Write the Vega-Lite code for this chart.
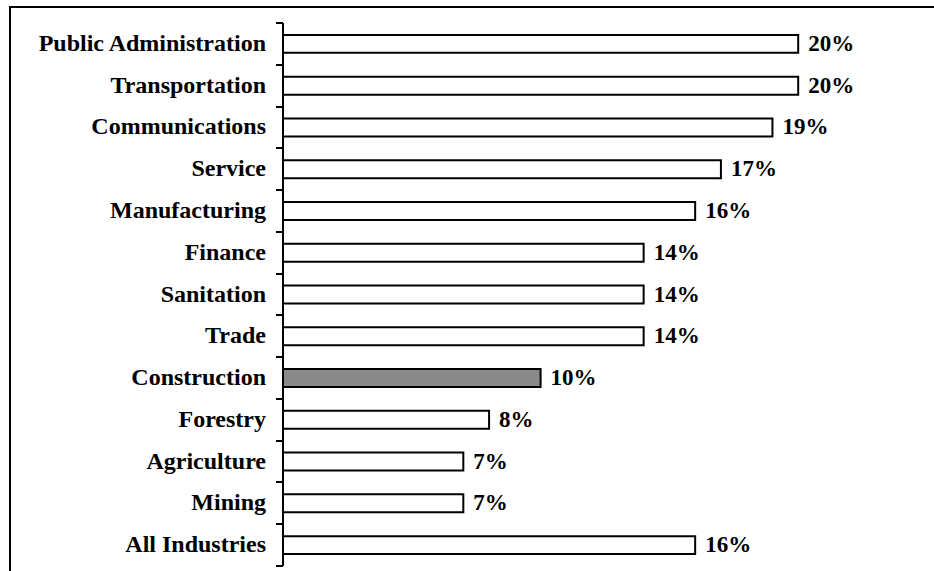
{
  "$schema": "https://vega.github.io/schema/vega-lite/v6.json",
  "autosize": "none",
  "width": 924,
  "height": 564,
  "padding": {"left": 10, "top": 7, "right": 0, "bottom": 0},
  "background": "white",
  "config": {
    "view": {
      "stroke": "black",
      "strokeWidth": 2,
      "strokeCap": "square",
      "strokeDash": [924, 1488, 564, 0]
    },
    "font": "Liberation Serif"
  },
  "data": {
    "values": [
      {"industry": "Public Administration", "share": 0.20},
      {"industry": "Transportation", "share": 0.20},
      {"industry": "Communications", "share": 0.19},
      {"industry": "Service", "share": 0.17},
      {"industry": "Manufacturing", "share": 0.16},
      {"industry": "Finance", "share": 0.14},
      {"industry": "Sanitation", "share": 0.14},
      {"industry": "Trade", "share": 0.14},
      {"industry": "Construction", "share": 0.10},
      {"industry": "Forestry", "share": 0.08},
      {"industry": "Agriculture", "share": 0.07},
      {"industry": "Mining", "share": 0.07},
      {"industry": "All Industries", "share": 0.16}
    ]
  },
  "encoding": {
    "y": {
      "field": "industry",
      "type": "nominal",
      "sort": null,
      "scale": {"range": [16, 559], "paddingInner": 0, "paddingOuter": 0},
      "axis": {
        "title": null,
        "orient": "left",
        "offset": -273,
        "translate": 0,
        "tickBand": "extent",
        "grid": false,
        "domainColor": "black",
        "domainWidth": 2,
        "tickColor": "black",
        "tickWidth": 2,
        "tickSize": 7,
        "labelFont": "Liberation Serif",
        "labelFontWeight": "bold",
        "labelFontSize": 24,
        "labelColor": "black",
        "labelPadding": 10,
        "labelLimit": 0
      }
    },
    "x": {
      "field": "share",
      "type": "quantitative",
      "scale": {"domain": [0, 0.25], "range": [273, 917], "nice": false, "zero": true},
      "axis": null
    }
  },
  "layer": [
    {
      "mark": {"type": "bar", "stroke": "black", "strokeWidth": 2, "height": {"band": 0.43}},
      "encoding": {
        "fill": {
          "condition": {"test": "datum.industry === 'Construction'", "value": "#8a8a8a"},
          "value": "white"
        }
      }
    },
    {
      "mark": {
        "type": "text",
        "align": "left",
        "baseline": "middle",
        "dx": 10,
        "font": "Liberation Serif",
        "fontWeight": "bold",
        "fontSize": 23,
        "color": "black"
      },
      "encoding": {
        "text": {"field": "share", "type": "quantitative", "format": ".0%"}
      }
    }
  ]
}
